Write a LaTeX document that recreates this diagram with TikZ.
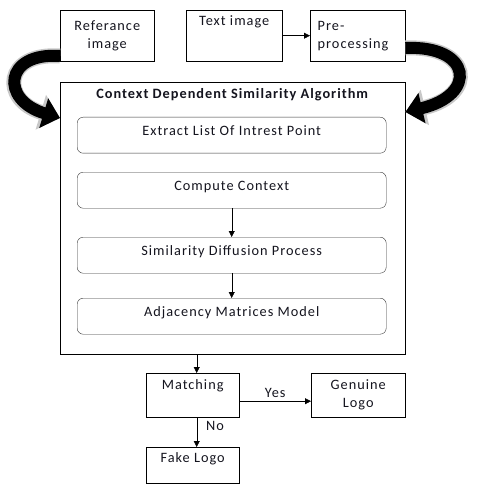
\documentclass[tikz,border=0pt]{standalone}
\usepackage{fontspec}
\setmainfont{Carlito}[LetterSpace=7]
\usetikzlibrary{arrows.meta,calc,positioning}
\definecolor{lgInk}{RGB}{20,20,30}
\definecolor{lgEdge}{RGB}{200,200,200}
\tikzset{
    box/.style={
        draw=black,thin,anchor=north west,inner xsep=2pt,inner ysep=4pt,
        align=center,text=lgInk,font=\fontsize{14.3}{18}\selectfont
    },
    stage/.style={
        draw=black!80,thin,rounded corners=6pt,anchor=north west,
        minimum width=309pt,minimum height=36pt,text height=10pt,text depth=10pt,
        align=center,text=lgInk,font=\fontsize{14.3}{18}\selectfont
    },
    arrow/.style={
        -{Triangle[length=6pt,width=6pt]},thin,draw=black
    },
    bigarrow/.style={
        line width=12pt,draw=black,-{Triangle[length=17pt,width=30pt]},
        preaction={draw=lgEdge,line width=15pt,-{Triangle[length=20pt,width=35pt]}}
    }
}

\begin{document}
\begin{tikzpicture}[x=1pt,y=-1pt]
\useasboundingbox (0,0) rectangle (478,489);

% input boxes
\node[box,minimum width=94pt,minimum height=51pt] (ref) at (60,10) {Referance\\image};
\node[box,minimum width=96pt,minimum height=51pt,text height=11pt,text depth=32pt] (txt) at (186,10) {Text image};
\node[box,minimum width=95pt,minimum height=51pt,align=left,text width=80pt] (pre) at (310,10) {Pre-\\processing};

\draw[arrow](txt)--(pre);

% algorithm block
\node[box,minimum width=345pt,minimum height=272pt,text height=10pt,text depth=250pt] (algo) at (60,82)
{\textbf{Context Dependent Similarity Algorithm}};

\node[stage] (ext) at (77,117) {Extract List Of Intrest Point};
\node[stage] (cmp) at (77,172) {Compute Context};
\node[stage] (sim) at (77,237) {Similarity Diffusion Process};
\node[stage] (adj) at (77,298) {Adjacency Matrices Model};

\draw[arrow](cmp)--(sim);
\draw[arrow](sim)--(adj);

% curved feeds
\draw[bigarrow]($(ref.north west)+(0,46)$) .. controls (4,52) and (0,100) .. ($(algo.north west)+(0,36)$);
\draw[bigarrow]($(pre.north east)+(0,38)$) .. controls (472,45) and (478,95) .. ($(algo.north east)+(0,30)$);

% decision
\node[box,minimum width=93pt,minimum height=44pt,text height=12pt,text depth=24pt] (match) at (146,373) {Matching};
\node[box,minimum width=94pt,minimum height=44pt] (gen) at (311,373) {Genuine\\Logo};
\node[box,minimum width=93pt,minimum height=36pt,text height=11pt,text depth=17pt] (fake) at (146,447) {Fake Logo};

\draw[arrow]([xshift=4pt]match.north |- algo.south)--([xshift=4pt]match.north);
\draw[arrow]([yshift=-6pt]match.east)--node[above,text=lgInk,font=\fontsize{14.3}{18}\selectfont]{Yes}([yshift=-6pt]gen.west);
\draw[arrow]([xshift=4pt]match.south)--node[pos=0.3,right=6pt,text=lgInk,font=\fontsize{14.3}{18}\selectfont]{No}([xshift=4pt]fake.north);

\end{tikzpicture}
\end{document}
